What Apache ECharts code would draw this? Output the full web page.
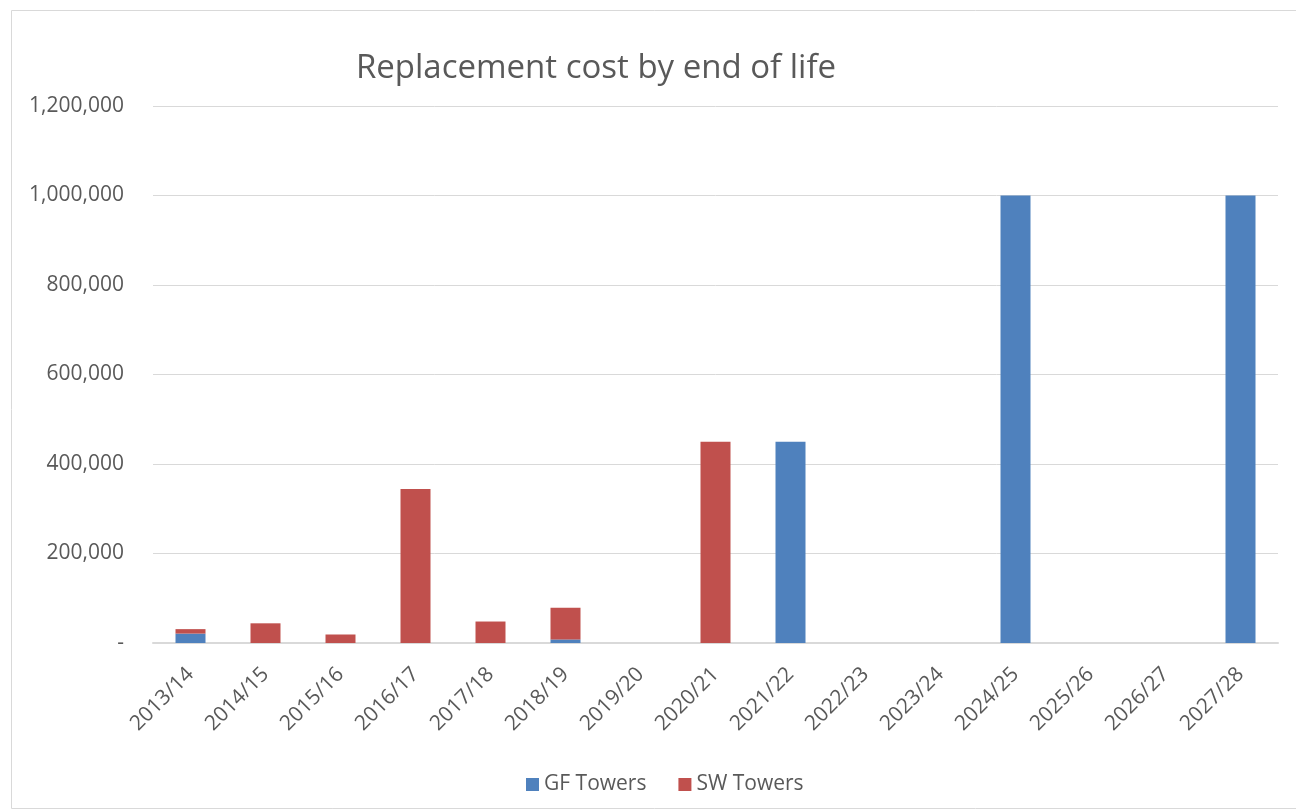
<!DOCTYPE html>
<html><head><meta charset="utf-8">
<script src="https://cdn.jsdelivr.net/npm/echarts@6/dist/echarts.min.js"></script>
<style>html,body{margin:0;padding:0;background:#fff}#c{width:1296px;height:812px}</style>
</head><body><div id="c"></div>
<script>
const categories = ['2013/14','2014/15','2015/16','2016/17','2017/18','2018/19','2019/20','2020/21','2021/22','2022/23','2023/24','2024/25','2025/26','2026/27','2027/28'];
const gfTowers = [21000, 0, 0, 0, 0, 8000, 0, 0, 450000, 0, 0, 1000000, 0, 0, 1000000];
const swTowers = [10000, 44000, 19000, 344000, 48000, 71000, 0, 450000, 0, 0, 0, 0, 0, 0, 0];
const yTicks = [0, 200000, 400000, 600000, 800000, 1000000, 1200000];

const font = 'Open Sans';
const chart = echarts.init(document.getElementById('c'));
chart.setOption({
  animation: false,
  color: ['#4f81bd', '#c0504d'],
  graphic: [{type:'rect', left: 9, top: 8, shape:{width:1300, height:798}, style:{fill:'none', stroke:'#d9d9d9', lineWidth:1}}],
  title: {text: 'Replacement cost by end of life', left: 591, top: 47, textAlign: 'center',
    textStyle: {fontFamily: font, fontSize: 33, fontWeight: 'normal', color: '#595959'}},
  legend: {bottom: 12, left: 521, itemWidth: 13, itemHeight: 13, itemGap: 32, icon: 'rect',
    textStyle: {fontFamily: font, fontSize: 21, color: '#595959'}},
  grid: {left: 153, right: 18, top: 106, bottom: 169, containLabel: false},
  xAxis: {type: 'category', data: categories,
    axisLine: {lineStyle: {color: '#d9d9d9', width: 2}}, axisTick: {show: false},
    axisLabel: {rotate: 45, interval: 0, margin: 28, fontFamily: font, fontSize: 21, color: '#595959'}},
  yAxis: {type: 'value', min: yTicks[0], max: yTicks[yTicks.length-1], interval: 200000,
    axisLine: {show: false}, axisTick: {show: false},
    splitLine: {lineStyle: {color: '#d9d9d9', width: 1}},
    axisLabel: {margin: 29, fontFamily: font, fontSize: 21, color: '#595959',
      formatter: v => v === 0 ? '-' : v.toLocaleString('en-US')}},
  series: [
    {name: 'GF Towers', type: 'bar', stack: 's', data: gfTowers, barWidth: '40%'},
    {name: 'SW Towers', type: 'bar', stack: 's', data: swTowers, barWidth: '40%'}
  ]
});
</script></body></html>
